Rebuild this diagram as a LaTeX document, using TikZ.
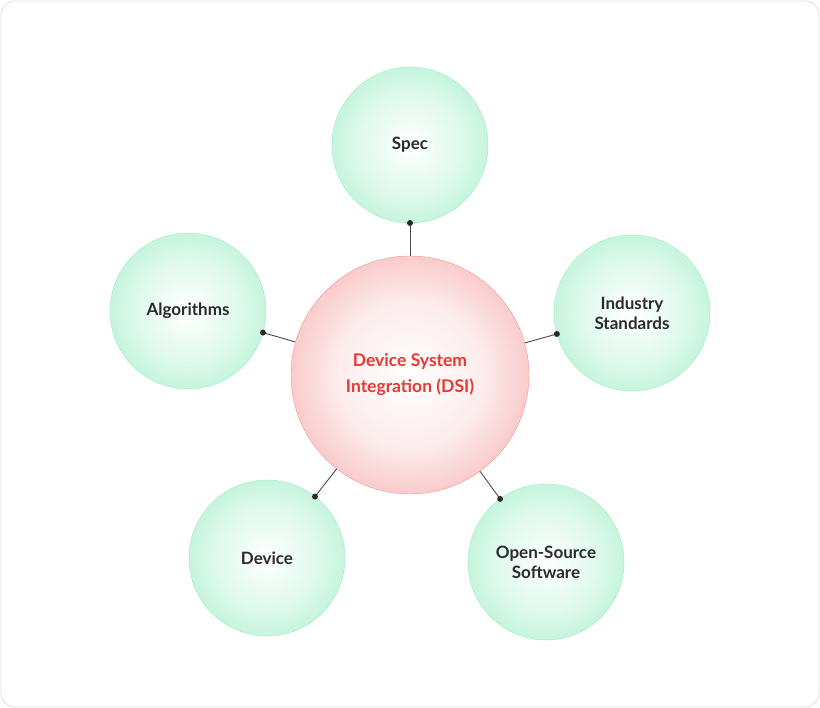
\documentclass[tikz,border=0pt]{standalone}
\usepackage{fontspec}
\setmainfont{Lato}
\usetikzlibrary{calc}
\definecolor{gEdge}{HTML}{9DEDC4}
\definecolor{gMid}{HTML}{E2FAEE}
\definecolor{rEdge}{HTML}{F49696}
\definecolor{rMid}{HTML}{FDEDED}
\definecolor{txt}{HTML}{2B2B2B}
\definecolor{red1}{HTML}{E53935}
\pgfdeclareradialshading{gshade}{\pgfpoint{0bp}{0bp}}{color(0bp)=(white); color(15bp)=(gMid); color(33bp)=(gEdge!80); color(45bp)=(gEdge); color(100bp)=(gEdge)}
\pgfdeclareradialshading{rshade}{\pgfpoint{0bp}{0bp}}{color(0bp)=(white); color(15bp)=(rMid); color(33bp)=(rEdge!75); color(45bp)=(rEdge); color(100bp)=(rEdge)}
\tikzset{
 sat/.style={circle, minimum size=156pt, inner sep=0pt, shading=gshade, draw=gEdge, align=center, font=\bfseries\fontsize{17}{20}\selectfont, text=txt},
 hub/.style={circle, minimum size=238pt, inner sep=0pt, shading=rshade, draw=rEdge, align=center, font=\bfseries\fontsize{17.5}{26}\selectfont, text=red1},
 link/.style={draw=txt!85, line width=0.9pt},
 dot/.style={circle, fill=txt, inner sep=0pt, minimum size=6pt}
}
\begin{document}
\begin{tikzpicture}[x=1pt,y=-1pt]
\useasboundingbox (0,0) rectangle (820,708);
\draw[draw=black!12, fill=white, rounded corners=14pt, line width=0.8pt] (1,1) rectangle (819,707);
\node[hub] (c) at (410,375) {Device System\\Integration (DSI)};
\node[sat] (s) at (410,145) {Spec};
\node[sat] (a) at (188,311) {Algorithms};
\node[sat] (i) at (632,313) {Industry\\Standards};
\node[sat] (d) at (267,558) {Device};
\node[sat] (o) at (546,562) {Open-Source\\Software};
\foreach \n in {s,a,i,d,o}{
  \coordinate (e\n) at ($(\n.center)!78pt!(c.center)$);
  \draw[link] (c) -- (e\n);
  \node[dot] at (e\n) {};
}
\end{tikzpicture}
\end{document}
